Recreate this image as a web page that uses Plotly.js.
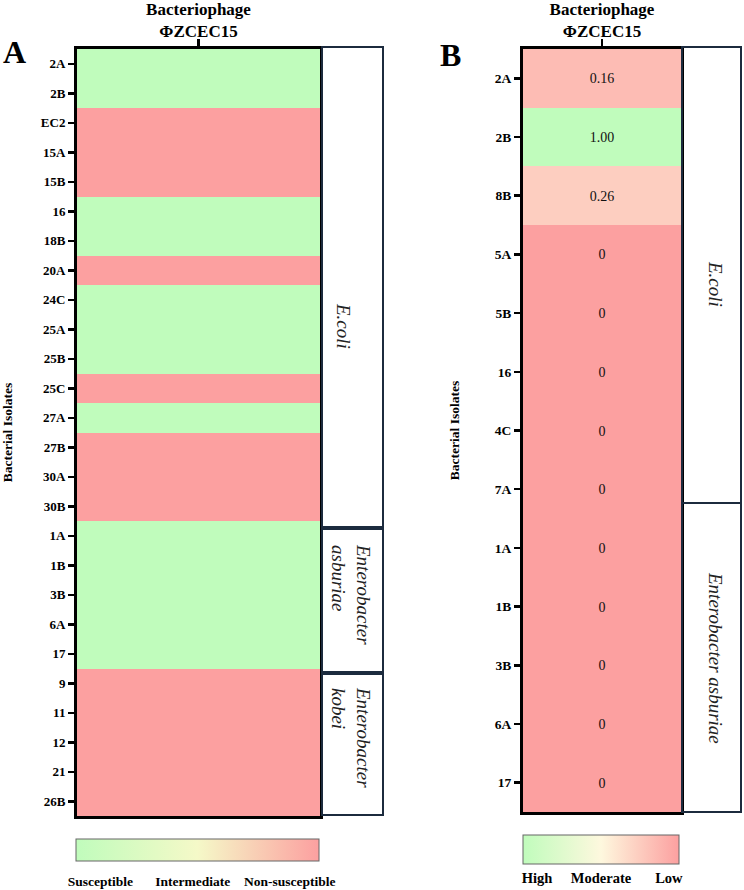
<!DOCTYPE html>
<html>
<head>
<meta charset="utf-8">
<script src="https://cdn.plot.ly/plotly-3.0.1.min.js"></script>
<style>html,body{margin:0;padding:0;background:#fff}#chart{width:744px;height:890px}</style>
</head>
<body>
<div id="chart"></div>
<script>
// ---------- data ----------
const phageLabel = ['Bacteriophage<br>ΦZCEC15'];

// Panel A: susceptibility (0 = susceptible, 1 = non-susceptible)
const isolatesA = ['2A','2B','EC2','15A','15B','16','18B','20A','24C','25A','25B','25C','27A','27B','30A','30B','1A','1B','3B','6A','17','9','11','12','21','26B'];
const susceptibilityA = [0,0,1,1,1,0,0,1,0,0,0,1,0,1,1,1,0,0,0,0,0,1,1,1,1,1];
const legendA = ['Susceptible','Intermediate','Non-susceptible'];
const groupsA = ['E.coli','Enterobacter<br>asburiae','Enterobacter<br>kobei'];

// Panel B: efficiency (1 = high, 0 = low)
const isolatesB = ['2A','2B','8B','5A','5B','16','4C','7A','1A','1B','3B','6A','17'];
const efficiencyB = [0.16,1.00,0.26,0,0,0,0,0,0,0,0,0,0];
const legendB = ['High','Moderate','Low'];
const groupsB = ['E.coli','Enterobacter asburiae'];

// ---------- helpers ----------
const W = 744, H = 890;
const px = v => v / W;
const py = v => 1 - v / H;
const FONT = 'Liberation Serif, "Times New Roman", serif';

const GREEN = 'rgb(192,252,188)';
const RED = 'rgb(252,160,160)';

const traceA = {
  type: 'heatmap',
  x: phageLabel,
  y: isolatesA,
  z: susceptibilityA.map(v => [v]),
  xaxis: 'x', yaxis: 'y',
  zmin: 0, zmax: 1,
  colorscale: [[0, GREEN], [0.5, 'rgb(245,249,200)'], [1, RED]],
  hoverinfo: 'y+z',
  colorbar: {
    orientation: 'h',
    x: px(197.5), xanchor: 'center',
    y: py(839), yanchor: 'top',
    len: px(243), lenmode: 'fraction',
    thickness: 22, thicknessmode: 'pixels',
    xpad: 0, ypad: 0,
    outlinewidth: 1, outlinecolor: '#666',
    tickvals: [0.1, 0.48, 0.88],
    ticktext: legendA,
    ticks: 'outside', ticklen: 9, tickcolor: 'rgba(0,0,0,0)',
    tickfont: {family: FONT, size: 13.5, weight: 'bold', color: '#000'}
  }
};

const traceB = {
  type: 'heatmap',
  x: phageLabel,
  y: isolatesB,
  z: efficiencyB.map(v => [-v]),
  text: efficiencyB.map(v => [v === 0 ? '0' : v.toFixed(2)]),
  texttemplate: '%{text}',
  textfont: {family: FONT, size: 14, color: '#111'},
  xaxis: 'x2', yaxis: 'y2',
  zmin: -1, zmax: 0,
  colorscale: [[0, GREEN], [0.5, 'rgb(254,248,222)'], [1, RED]],
  hoverinfo: 'y+text',
  colorbar: {
    orientation: 'h',
    x: px(601), xanchor: 'center',
    y: py(835), yanchor: 'top',
    len: px(156), lenmode: 'fraction',
    thickness: 29, thicknessmode: 'pixels',
    xpad: 0, ypad: 0,
    outlinewidth: 1, outlinecolor: '#666',
    tickvals: [-0.91, -0.5, -0.065],
    ticktext: legendB,
    ticks: 'outside', ticklen: 2, tickcolor: 'rgba(0,0,0,0)',
    tickfont: {family: FONT, size: 14.5, weight: 'bold', color: '#000'}
  }
};

const tickFontA = {family: FONT, size: 13, weight: 'bold', color: '#000'};
const tickFontB = {family: FONT, size: 13.5, weight: 'bold', color: '#000'};
const topFont = {family: FONT, size: 17, weight: 'bold', color: '#000'};
const yTitleFont = {family: FONT, size: 13.5, weight: 'bold', color: '#000'};

const xCommon = {
  type: 'category', side: 'top', showgrid: false, zeroline: false,
  showline: true, mirror: true, linecolor: '#000', linewidth: 3,
  ticks: 'outside', ticklen: 7, tickwidth: 2.5, tickcolor: '#000',
  ticklabelstandoff: -5,
  tickfont: topFont, fixedrange: true
};
const yCommon = {
  type: 'category', autorange: 'reversed', showgrid: false, zeroline: false,
  showline: true, mirror: true, linecolor: '#000', linewidth: 3,
  ticks: 'outside', ticklen: 6, tickwidth: 2.5, tickcolor: '#000',
  fixedrange: true
};

const boxLine = {color: '#1c2b3e', width: 2};
const shapes = [
  // group boxes panel A
  {type: 'rect', xref: 'paper', yref: 'paper', x0: px(322), x1: px(383), y0: py(47), y1: py(527), line: boxLine},
  {type: 'rect', xref: 'paper', yref: 'paper', x0: px(322), x1: px(383), y0: py(529), y1: py(672), line: boxLine},
  {type: 'rect', xref: 'paper', yref: 'paper', x0: px(322), x1: px(383), y0: py(674), y1: py(815), line: boxLine},
  // group boxes panel B
  {type: 'rect', xref: 'paper', yref: 'paper', x0: px(682), x1: px(741), y0: py(47), y1: py(503), line: boxLine},
  {type: 'rect', xref: 'paper', yref: 'paper', x0: px(682), x1: px(741), y0: py(503), y1: py(812), line: boxLine},
  // middle marks on the colour bars
  {type: 'line', xref: 'paper', yref: 'paper', x0: px(197.5), x1: px(197.5), y0: py(839), y1: py(843), line: {color: '#333', width: 1.2}},
  {type: 'line', xref: 'paper', yref: 'paper', x0: px(197.5), x1: px(197.5), y0: py(857), y1: py(861), line: {color: '#333', width: 1.2}},
  {type: 'line', xref: 'paper', yref: 'paper', x0: px(601), x1: px(601), y0: py(835), y1: py(840), line: {color: '#333', width: 1.2}},
  {type: 'line', xref: 'paper', yref: 'paper', x0: px(601), x1: px(601), y0: py(859), y1: py(864), line: {color: '#333', width: 1.2}}
];

const groupFont = {family: FONT, size: 19, style: 'italic', color: '#222'};
const ann = (text, x, y, extra) => Object.assign({
  text: text, xref: 'paper', yref: 'paper', x: px(x), y: py(y),
  xanchor: 'center', yanchor: 'middle', showarrow: false
}, extra);
const annotations = [
  ann('A', 14, 52, {font: {family: FONT, size: 32, weight: 'bold', color: '#000'}}),
  ann('B', 450, 55, {font: {family: FONT, size: 32, weight: 'bold', color: '#000'}}),
  ann(groupsA[0], 344, 326, {textangle: 90, font: groupFont}),
  ann(groupsA[1], 351, 594, {textangle: 90, align: 'left', font: groupFont}),
  ann(groupsA[2], 351, 737, {textangle: 90, align: 'left', font: groupFont}),
  ann(groupsB[0], 716, 284, {textangle: 90, font: groupFont}),
  ann(groupsB[1], 716, 658, {textangle: 90, font: groupFont})
];

const layout = {
  width: W, height: H,
  margin: {l: 0, r: 0, t: 0, b: 0},
  paper_bgcolor: '#fff', plot_bgcolor: '#fff',
  showlegend: false,
  xaxis: Object.assign({}, xCommon, {domain: [px(77), px(320)], anchor: 'y'}),
  yaxis: Object.assign({}, yCommon, {domain: [py(816), py(49)], anchor: 'x', tickfont: tickFontA,
    title: {text: 'Bacterial Isolates', standoff: 26, font: yTitleFont}}),
  xaxis2: Object.assign({}, xCommon, {domain: [px(523), px(681)], anchor: 'y2'}),
  yaxis2: Object.assign({}, yCommon, {domain: [py(812), py(49)], anchor: 'x2', tickfont: tickFontB,
    title: {text: 'Bacterial Isolates', standoff: 33, font: yTitleFont}}),
  shapes: shapes,
  annotations: annotations
};

Plotly.newPlot('chart', [traceA, traceB], layout, {displayModeBar: false, staticPlot: true});
</script>
</body>
</html>
